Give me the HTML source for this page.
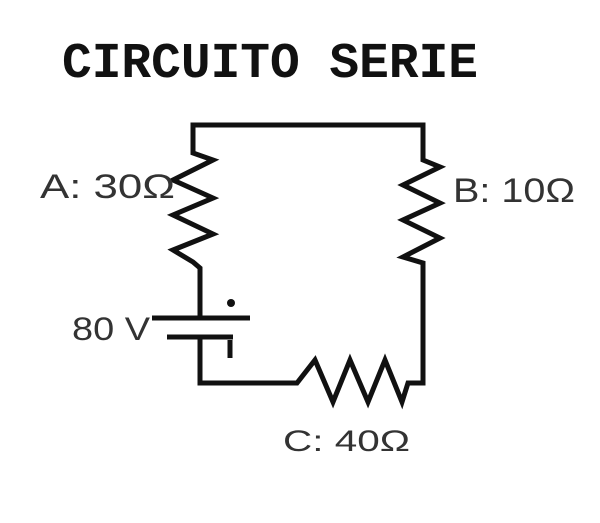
<!DOCTYPE html>
<html><head><style>html,body{margin:0;padding:0;background:#fff}svg{display:block}</style></head>
<body>
<svg width="600" height="523" viewBox="0 0 600 523" xmlns="http://www.w3.org/2000/svg">
<rect width="600" height="523" fill="#fff"/>
<text x="62" y="77" font-family="Liberation Mono, monospace" font-weight="bold" font-size="50" textLength="416" lengthAdjust="spacingAndGlyphs" fill="#111">CIRCUITO SERIE</text>
<g fill="none" stroke="#111" stroke-width="5" stroke-linejoin="miter">
<polyline points="200,318 200,268 193,262 173,250 213,234 173,215 213,198 173,180 213,160 193,153 193,125 423,125 423,160 440,167 403,185 440,203 403,220 440,238 403,257 423,263 423,383 408,383 402,402 385,360 368,402 350,360 333,402 315,360 297,383 200,383 200,337"/>
<line x1="152" y1="318" x2="250" y2="318"/>
<line x1="167" y1="337" x2="233" y2="337"/>
<line x1="230" y1="340" x2="230" y2="358" stroke-width="5"/>
</g>
<circle cx="231" cy="303" r="4" fill="#111"/>
<g font-family="Liberation Sans, sans-serif" fill="#333">
<text x="40" y="198" font-size="34" textLength="135" lengthAdjust="spacingAndGlyphs">A: 30Ω</text>
<text x="453" y="202" font-size="34" textLength="122" lengthAdjust="spacingAndGlyphs">B: 10Ω</text>
<text x="72" y="340" font-size="32" textLength="78" lengthAdjust="spacingAndGlyphs">80 V</text>
<text x="283" y="451" font-size="30" textLength="127" lengthAdjust="spacingAndGlyphs">C: 40Ω</text>
</g>
</svg>
</body></html>
